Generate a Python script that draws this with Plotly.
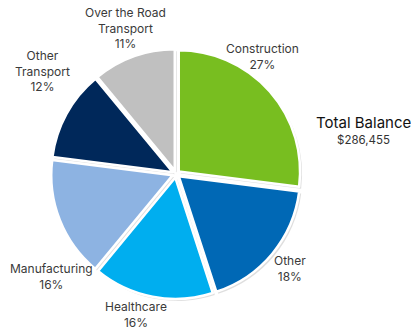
import plotly.graph_objects as go

# Portfolio balance by industry segment
categories = ["Construction", "Other", "Healthcare", "Manufacturing",
              "Other Transport", "Over the Road Transport"]
label_lines = ["Construction", "Other", "Healthcare", "Manufacturing",
               "Other<br>Transport", "Over the Road<br>Transport"]
shares = [27, 18, 16, 16, 12, 11]
colors = ["#78BE20", "#0068B5", "#00AEEF", "#8DB3E2", "#00285A", "#C0C0C0"]
total_balance = "$286,455"

FONT = "Inter, 'Open Sans', sans-serif"
W, H = 411, 331

# pie box in pixels (centre x, centre y from top, half-size)
CX, CY, HALF = 176, 174, 125
PULL = 0.03

def domain(dx=0, dy=0):
    return dict(
        x=[(CX - HALF + dx) / W, (CX + HALF + dx) / W],
        y=[1 - (CY + HALF + dy) / H, 1 - (CY - HALF + dy) / H],
    )

common = dict(
    labels=categories,
    values=shares,
    sort=False,
    direction="clockwise",
    rotation=0,
    pull=[PULL] * len(shares),
    automargin=False,
    textinfo="none",
    showlegend=False,
)

fig = go.Figure()

# soft drop shadow under the slices
fig.add_trace(go.Pie(
    **common,
    marker=dict(colors=["rgba(0,0,0,0.13)"] * len(shares),
                line=dict(color="rgba(255,255,255,0)", width=0)),
    domain=domain(2, 2),
    hoverinfo="skip",
))

fig.add_trace(go.Pie(
    **common,
    marker=dict(colors=colors, line=dict(color="white", width=2.5)),
    domain=domain(),
    hoverinfo="label+percent",
))

# slice labels (anchor points in pixels)
label_pos = [(262, 56), (290, 268), (136, 314), (51, 276), (42, 71), (125, 28)]
for txt, val, (px, py) in zip(label_lines, shares, label_pos):
    fig.add_annotation(
        x=px / W, y=1 - py / H, xref="paper", yref="paper",
        xanchor="center", yanchor="middle",
        text=f"{txt}<br>{val}%", showarrow=False,
        font=dict(family=FONT, size=12, color="#3a3a3a"),
    )

fig.add_annotation(
    x=363 / W, y=1 - 122 / H, xref="paper", yref="paper",
    xanchor="center", yanchor="middle", borderpad=0,
    text="Total Balance", showarrow=False,
    font=dict(family=FONT, size=15, color="#111111"),
)
fig.add_annotation(
    x=363 / W, y=1 - 140 / H, xref="paper", yref="paper",
    xanchor="center", yanchor="middle", borderpad=0,
    text=total_balance, showarrow=False,
    font=dict(family=FONT, size=11.5, color="#333333"),
)

fig.update_layout(
    width=W, height=H,
    margin=dict(l=0, r=0, t=0, b=0, autoexpand=False),
    paper_bgcolor="white",
    plot_bgcolor="white",
)

fig.write_html("out.html")
